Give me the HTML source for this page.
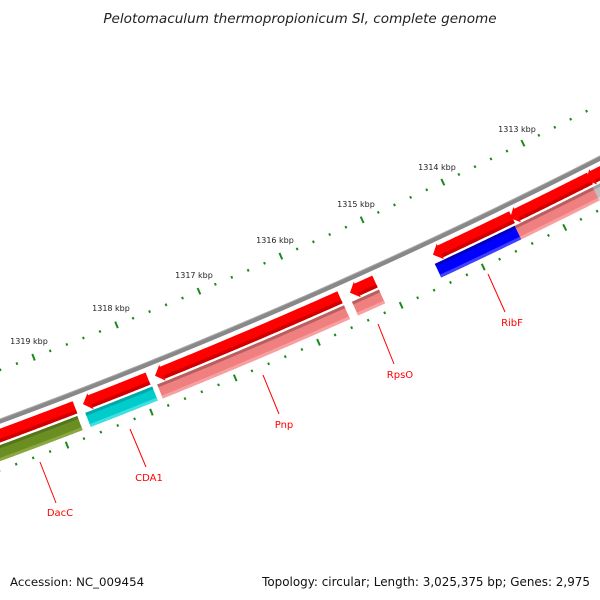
<!DOCTYPE html>
<html><head><meta charset="utf-8"><style>
html,body{margin:0;padding:0;background:#fff;}
svg{display:block;}
text{font-family:"DejaVu Sans","Liberation Sans",sans-serif;}
</style></head><body>
<svg id="s" width="600" height="600" viewBox="0 0 600 600" xmlns="http://www.w3.org/2000/svg">
<g id="g"></g>
<text x="300" y="23" font-size="13.6" font-style="italic" text-anchor="middle" fill="#222">Pelotomaculum thermopropionicum SI, complete genome</text>
<g font-size="8" fill="#222" text-anchor="middle">
<text x="29" y="344">1319 kbp</text>
<text x="111" y="311">1318 kbp</text>
<text x="194" y="278">1317 kbp</text>
<text x="275" y="243">1316 kbp</text>
<text x="356" y="207">1315 kbp</text>
<text x="437" y="170">1314 kbp</text>
<text x="517" y="132">1313 kbp</text>
</g>
<g font-size="10" fill="#ff0000" text-anchor="middle">
<text x="60" y="516">DacC</text>
<text x="149" y="481">CDA1</text>
<text x="284" y="428">Pnp</text>
<text x="400" y="378">RpsO</text>
<text x="512" y="326">RibF</text>
</g>
<g stroke="#ff0000" stroke-width="1">
<line x1="40" y1="462" x2="56" y2="503"/>
<line x1="130" y1="429" x2="146" y2="467"/>
<line x1="263" y1="375" x2="279" y2="414"/>
<line x1="378" y1="324" x2="394" y2="364"/>
<line x1="488" y1="274" x2="505" y2="312"/>
</g>
<text x="10" y="586" font-size="11.8" fill="#111">Accession: NC_009454</text>
<text x="590" y="586" font-size="11.95" fill="#111" text-anchor="end">Topology: circular; Length: 3,025,375 bp; Genes: 2,975</text>
</svg>
<script>
var CX=-1937,CY=-4814,D=Math.PI/180;
function P(r,t){return [(CX+r*Math.cos(t*D)).toFixed(2),(CY+r*Math.sin(t*D)).toFixed(2)];}
function T(x,r){return Math.acos((x-CX)/r)/D;}
var out='';
function band(r1,r2,t1,t2,fill,arrow){
  var pts=[],n=40,head=arrow?8/((r1+r2)/2)/D:0,te=t2-head;
  if(te<t1)te=t1;
  for(var i=0;i<=n;i++){pts.push(P(r1,t1+(te-t1)*i/n));}
  if(arrow){pts.push(P(r1-2,te));pts.push(P((r1+r2)/2,t2));pts.push(P(r2+2,te));}
  for(var i=n;i>=0;i--){pts.push(P(r2,t1+(te-t1)*i/n));}
  out+='<polygon points="'+pts.map(function(p){return p.join(',')}).join(' ')+'" fill="'+fill+'"/>';
}
band(5580,5584.5,60,72,'#888',false);
band(5579.5,5580.5,60,72,'#aaa',false);
function feat(x1,x2,row,col,dark,light,arrow){
  var r1=row?5604.5:5589,r2=row?5619.5:5602;
  var rm=(r1+r2)/2,t1=T(x2,rm),t2=T(x1,rm);
  band(r1,r2,t1,t2,col,arrow);
  if(row){band(r1,r1+3,t1,t2,dark,false);band(r2-3,r2,t1,t2,light,false);}
  else{band(r2-3.5,r2,t1,t2-(arrow?8/rm/D:0),dark,false);}
}
var R='#ff0000',RD='#d00000';
feat(-20,75,0,R,RD,null,true);
feat(83,148,0,R,RD,null,true);
feat(155,340,0,R,RD,null,true);
feat(350,375,0,R,RD,null,true);
feat(433,512,0,R,RD,null,true);
feat(510,590,0,R,RD,null,true);
feat(586,640,0,R,RD,null,true);
feat(-20,80,1,'#6b8e23','#55751a','#8aa840',false);
feat(88,155,1,'#00cccc','#00a8a8','#40e0e0',false);
feat(160,347,1,'#f08080','#b86060','#f8a0a0',false);
feat(355,382,1,'#f08080','#b86060','#f8a0a0',false);
feat(438,518,1,'#0000ff','#0000c0','#4040ff',false);
feat(518,598,1,'#f08080','#b86060','#f8a0a0',false);
feat(596,640,1,'#c0c0c0','#a0a0a0','#d8d8d8',false);
function tick(r,t,len){var a=P(r-len/2,t),b=P(r+len/2,t);
 out+='<line x1="'+a[0]+'" y1="'+a[1]+'" x2="'+b[0]+'" y2="'+b[1]+'" stroke="#1a8a1a" stroke-width="2"/>';}
for(var i=-10;i<=45;i++){
  var k=1319-i*0.2,t=69.14-0.922*(1319-k),maj=(i%5===0);
  tick(5534,t,maj?7:2.5);
  tick(5628,t,maj?7:2.5);
}
document.getElementById('g').innerHTML=out;
</script>
</body></html>
